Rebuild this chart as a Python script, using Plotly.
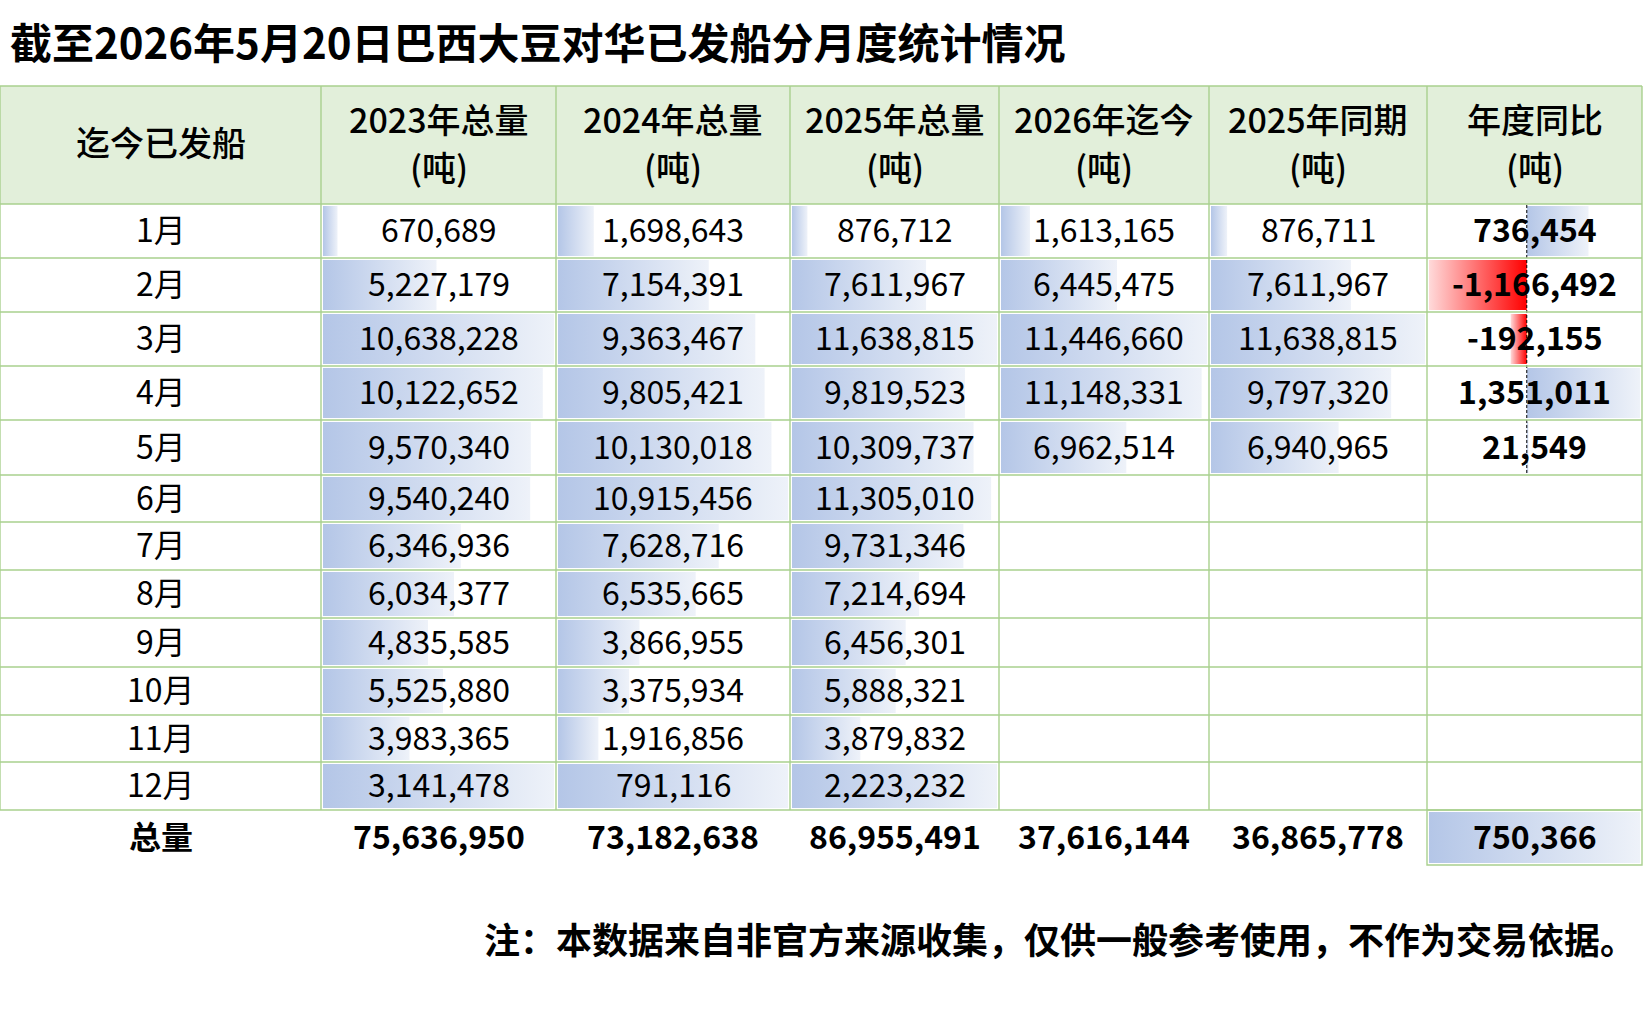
import plotly.graph_objects as go

# ---- data (tons) ----
title = "截至2026年5月20日巴西大豆对华已发船分月度统计情况"
note = "注：本数据来自非官方来源收集，仅供一般参考使用，不作为交易依据。"
corner = "迄今已发船"
total_label = "总量"

months = ["1月", "2月", "3月", "4月", "5月", "6月", "7月", "8月", "9月", "10月", "11月", "12月"]
headers = ["2023年总量", "2024年总量", "2025年总量", "2026年迄今", "2025年同期", "年度同比"]
unit = "(吨)"

y2023 = [670689, 5227179, 10638228, 10122652, 9570340, 9540240, 6346936, 6034377, 4835585, 5525880, 3983365, 3141478]
y2024 = [1698643, 7154391, 9363467, 9805421, 10130018, 10915456, 7628716, 6535665, 3866955, 3375934, 1916856, 791116]
y2025 = [876712, 7611967, 11638815, 9819523, 10309737, 11305010, 9731346, 7214694, 6456301, 5888321, 3879832, 2223232]
y2026 = [1613165, 6445475, 11446660, 11148331, 6962514]
y2025_same = [876711, 7611967, 11638815, 9797320, 6940965]
yoy = [736454, -1166492, -192155, 1351011, 21549]
totals = [75636950, 73182638, 86955491, 37616144, 36865778, 750366]

# the data bars in the sheet were set on separate ranges: Jan-Nov together, Dec on its own
bar_groups = [0] * 11 + [1]

# ---- layout / style ----
W, H = 1643, 1015
col_edges = [0, 321, 556, 790, 999, 1209, 1427, 1642]
row_edges = [204, 258, 312, 366, 420, 475, 522, 570, 618, 667, 715, 762, 810]
table_top, total_bottom = 86, 865
grid = "#A9D08E"
head_bg = "#E2EFDA"
blue = [[0, "#B4C6E7"], [1, "#EEF2F9"]]
red = [[0, "#FFDADA"], [1, "#FF0000"]]
FONT = "Noto Sans CJK SC"
TXT_DY = -3  # text sits a little above the cell middle

fig = go.Figure()


def add_bar(col, start, end, top, bottom, scale):
    fig.add_trace(go.Scatter(
        x=[start, end, end, start, start],
        y=[top + 2, top + 2, bottom - 2, bottom - 2, top + 2],
        mode="lines", line=dict(width=0), fill="toself",
        fillgradient=dict(type="horizontal", colorscale=scale),
        hoverinfo="skip", showlegend=False,
        xaxis="x%d" % (col + 1), yaxis="y"))


def text(x, y, s, size=32, bold=False, anchor="center", weight=None):
    if bold:
        s = "<b>%s</b>" % s
    f = dict(family=FONT, size=size, color="black")
    if weight:
        f["weight"] = weight
    fig.add_annotation(x=x / W, y=y, xref="paper", yref="y", text=s,
                       showarrow=False, xanchor=anchor, yanchor="middle", font=f)


def cx(col):
    return (col_edges[col] + col_edges[col + 1]) / 2


# header background
fig.add_shape(type="rect", xref="paper", yref="y", x0=0, x1=col_edges[-1] / W,
              y0=table_top, y1=row_edges[0], fillcolor=head_bg, line_width=0, layer="below")

# monthly data bars (each range scaled to its own max)
series = [y2023, y2024, y2025, y2026, y2025_same]
for c, vals in enumerate(series, start=1):
    for i, v in enumerate(vals):
        g = bar_groups[i]
        gmax = max(u for u, gg in zip(vals, bar_groups) if gg == g)
        add_bar(c, 0, v / gmax, row_edges[i], row_edges[i + 1], blue)

# year-on-year bars around an automatic axis
lo, hi = min(0, min(yoy)), max(0, max(yoy))
span = hi - lo
base = -lo / span
for i, v in enumerate(yoy):
    add_bar(6, base, base + v / span, row_edges[i], row_edges[i + 1], blue if v >= 0 else red)
add_bar(6, 0, totals[5] / max(totals[5:]), row_edges[-1], total_bottom, blue)

fig.add_shape(type="line", xref="x7", yref="y", x0=base, x1=base,
              y0=row_edges[0] + 1, y1=row_edges[len(yoy)], line=dict(color="black", width=1, dash="3px,2px"))

# grid lines
for y in [table_top] + row_edges:
    fig.add_shape(type="line", xref="paper", yref="y", x0=0, x1=col_edges[-1] / W, y0=y, y1=y,
                  line=dict(color=grid, width=1.4))
for x in col_edges:
    fig.add_shape(type="line", xref="paper", yref="y", x0=x / W, x1=x / W, y0=table_top, y1=row_edges[-1],
                  line=dict(color=grid, width=1.4))
fig.add_shape(type="rect", xref="paper", yref="y", x0=col_edges[6] / W, x1=col_edges[7] / W,
              y0=row_edges[-1], y1=total_bottom, line=dict(color=grid, width=1.4))

# texts
text(8, 40, title, size=42, bold=True, anchor="left")
text(cx(0), 141, corner, size=34, weight=500)
for c, h in enumerate(headers, start=1):
    text(cx(c), 118, h, size=34, weight=500)
    text(cx(c), 166, unit, size=34, weight=500)

for i, m in enumerate(months):
    yc = (row_edges[i] + row_edges[i + 1]) / 2 + TXT_DY
    text(cx(0), yc, m)
    for c, vals in enumerate(series, start=1):
        if i < len(vals):
            text(cx(c), yc, f"{vals[i]:,}")
    if i < len(yoy):
        text(cx(6), yc, f"{yoy[i]:,}", bold=True)

yt = (row_edges[-1] + total_bottom) / 2 + TXT_DY
text(cx(0), yt, total_label, bold=True)
for c, v in enumerate(totals, start=1):
    text(cx(c), yt, f"{v:,}", bold=True)

text(1638, 938, note, size=36, bold=True, anchor="right")

# axes: one hidden x axis per column, y in pixel units
layout = dict(
    width=W, height=H, margin=dict(l=0, r=0, t=0, b=0),
    paper_bgcolor="white", plot_bgcolor="white", showlegend=False,
    yaxis=dict(range=[H, 0], domain=[0, 1], visible=False, fixedrange=True),
)
for k in range(7):
    w = col_edges[k + 1] - col_edges[k]
    pad = 2 / (w - 4)
    layout["xaxis" if k == 0 else "xaxis%d" % (k + 1)] = dict(
        domain=[col_edges[k] / W, col_edges[k + 1] / W], range=[-pad, 1 + pad],
        visible=False, fixedrange=True, anchor="y")
fig.update_layout(**layout)

# page margin off so the figure sits at the window corner
fig.write_html("out.html", config={"displayModeBar": False},
               post_script="document.body.style.margin='0px';")
